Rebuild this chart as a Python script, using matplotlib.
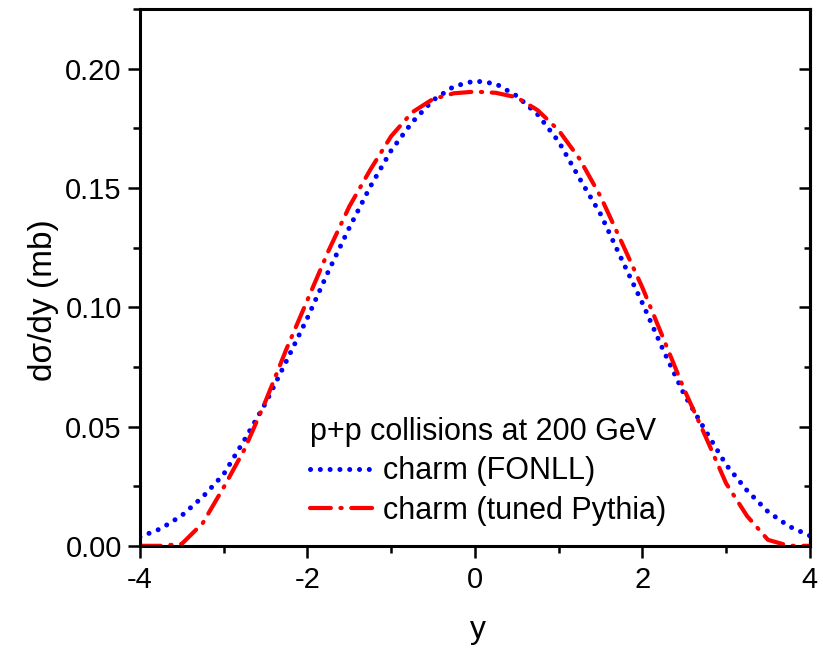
import matplotlib
matplotlib.use("Agg")
import matplotlib.pyplot as plt
from matplotlib.ticker import MultipleLocator

plt.rcParams["font.family"] = ["Liberation Sans", "DejaVu Sans"]
plt.rcParams["axes.unicode_minus"] = False

# rapidity grid and curves
rapidity = [-4.0, -3.75, -3.5, -3.25, -3.0, -2.75, -2.5, -2.25, -2.0, -1.75,
            -1.5, -1.25, -1.0, -0.75, -0.5, -0.25, 0.0, 0.25, 0.5, 0.75,
            1.0, 1.25, 1.5, 1.75, 2.0, 2.25, 2.5, 2.75, 3.0, 3.25,
            3.5, 3.75, 4.0]
fonll = [0.0037, 0.0072, 0.0127, 0.0205, 0.0300, 0.0445, 0.0598, 0.0775, 0.0955, 0.1150,
         0.1333, 0.1505, 0.1657, 0.1775, 0.1868, 0.1926, 0.1949, 0.1937, 0.1886, 0.1808,
         0.1695, 0.1540, 0.1391, 0.1203, 0.1018, 0.0820, 0.0634, 0.0485, 0.0340, 0.0232,
         0.0143, 0.0082, 0.0042]
pythia = [0.0, 0.0, 0.0008, 0.0095, 0.0245, 0.0405, 0.0606, 0.0825, 0.1030, 0.1235,
          0.1422, 0.1576, 0.1717, 0.1817, 0.1873, 0.1897, 0.1904, 0.1899, 0.1880, 0.1826,
          0.1742, 0.1622, 0.1465, 0.1275, 0.1083, 0.0870, 0.0655, 0.0462, 0.0262, 0.0125,
          0.0025, 0.0, 0.0]

fig = plt.figure(figsize=(8.23, 6.49), dpi=100)
ax = fig.add_axes([0.170, 0.159, 0.814, 0.827])

ax.plot(rapidity, fonll, color="#0000ff", lw=3.6, linestyle=(0, (0.01, 1.95)),
        dash_capstyle="round", label="charm (FONLL)")
ax.plot(rapidity, pythia, color="#ff0000", lw=3.0, linestyle=(0, (5.0, 2.3, 0.3, 2.3)),
        dash_capstyle="round", label="charm (tuned Pythia)")

ax.set_xlim(-4, 4)
ax.set_ylim(0, 0.225)
ax.xaxis.set_major_locator(MultipleLocator(2))
ax.xaxis.set_minor_locator(MultipleLocator(1))
ax.yaxis.set_major_locator(MultipleLocator(0.05))
ax.yaxis.set_minor_locator(MultipleLocator(0.025))
ax.yaxis.set_major_formatter(plt.FormatStrFormatter("%.2f"))

for s in ax.spines.values():
    s.set_linewidth(2.2)
ax.tick_params(which="both", direction="out", width=1.8, labelsize=21,
               top=False, right=False)
ax.tick_params(which="major", length=8.5, pad=6)
ax.tick_params(which="minor", length=5)
ax.tick_params(axis="y", which="major", pad=4.5)

# inward ticks on the right side
rax = ax.secondary_yaxis("right")
rax.yaxis.set_major_locator(MultipleLocator(0.05))
rax.yaxis.set_minor_locator(MultipleLocator(0.025))
rax.tick_params(which="both", direction="in", width=1.8, labelright=False)
rax.tick_params(which="major", length=8)
rax.tick_params(which="minor", length=4.5)
rax.spines["right"].set_linewidth(2.2)

ax.set_xlabel("y", fontsize=23)
ax.set_ylabel("d\u03c3/dy (mb)", fontsize=24)
ax.xaxis.set_label_coords(0.505, -0.128)
ax.yaxis.set_label_coords(-0.121, 0.458)

leg = ax.legend(title="p+p collisions at 200 GeV", loc="lower left",
                bbox_to_anchor=(0.235, 0.015), frameon=False, fontsize=22,
                title_fontsize=22, alignment="left", handlelength=2.1,
                handletextpad=0.3, labelspacing=0.3, borderaxespad=0)

fig.savefig("out.png", dpi=100)
